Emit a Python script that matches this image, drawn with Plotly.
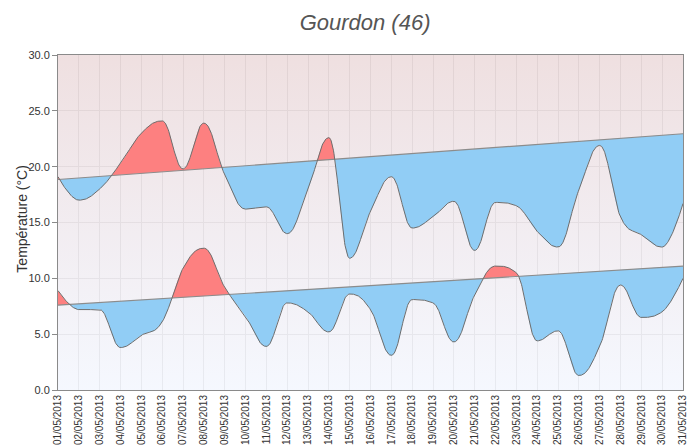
import numpy as np
import plotly.graph_objects as go

# ---------------- data ----------------
day_labels = [f"{d:02d}/05/2013" for d in range(1, 32)]
day_index = list(range(1, 32))

t_max = [19.1, 17.0, 18.0, 20.3, 23.0, 24.1, 19.8, 23.9, 19.3, 16.2, 16.4,
         14.0, 18.0, 22.6, 11.8, 16.0, 19.1, 14.5, 15.5, 16.9, 12.5, 16.8,
         16.5, 14.2, 12.8, 17.9, 21.9, 15.5, 13.9, 12.8, 16.7]
t_min = [8.9, 7.2, 7.2, 3.8, 4.9, 6.1, 10.9, 12.7, 9.2, 6.6, 3.9, 7.8, 7.0,
         5.2, 8.6, 7.2, 3.1, 8.1, 7.8, 4.3, 8.5, 11.1, 10.5, 4.4, 5.3, 1.3,
         3.9, 9.4, 6.5, 7.0, 10.0]

# seasonal normals (straight lines from first to last day)
normal_days = [1, 31]
normal_max = [18.85, 22.95]
normal_min = [7.6, 11.1]

y_ticks = [0, 5, 10, 15, 20, 25, 30]

RED = "rgb(253,128,128)"
BLUE = "rgb(145,205,245)"
LINE = "#6e6e6e"


# ------------- smooth curve rendering (Highcharts-style spline) -------------
def spline_path(xs, ys, n=40):
    N = len(xs)
    s = 1.5
    den = s + 1
    lc = [None] * N
    rc = [None] * N
    for i in range(1, N - 1):
        px, py = xs[i], ys[i]
        lx, ly = xs[i - 1], ys[i - 1]
        nx, ny = xs[i + 1], ys[i + 1]
        lcx, lcy = (s * px + lx) / den, (s * py + ly) / den
        rcx, rcy = (s * px + nx) / den, (s * py + ny) / den
        corr = 0.0
        if rcx != lcx:
            corr = (rcy - lcy) * (rcx - px) / (rcx - lcx) + py - rcy
        lcy += corr
        rcy += corr
        if lcy > ly and lcy > py:
            lcy = max(ly, py); rcy = 2 * py - lcy
        elif lcy < ly and lcy < py:
            lcy = min(ly, py); rcy = 2 * py - lcy
        if rcy > ny and rcy > py:
            rcy = max(ny, py); lcy = 2 * py - rcy
        elif rcy < ny and rcy < py:
            rcy = min(ny, py); lcy = 2 * py - rcy
        lc[i] = (lcx, lcy)
        rc[i] = (rcx, rcy)
    X, Y = [], []
    t = np.linspace(0, 1, n, endpoint=False)
    for i in range(N - 1):
        p0 = np.array([xs[i], ys[i]], float)
        p3 = np.array([xs[i + 1], ys[i + 1]], float)
        p1 = np.array(rc[i], float) if rc[i] is not None else p0
        p2 = np.array(lc[i + 1], float) if lc[i + 1] is not None else p3
        a = (1 - t) ** 3
        b = 3 * (1 - t) ** 2 * t
        c = 3 * (1 - t) * t ** 2
        d = t ** 3
        X.extend(a * p0[0] + b * p1[0] + c * p2[0] + d * p3[0])
        Y.extend(a * p0[1] + b * p1[1] + c * p2[1] + d * p3[1])
    X.append(xs[-1]); Y.append(ys[-1])
    return np.array(X), np.array(Y)


def split_fills(xs, ys, nd, nv):
    cx, cy = spline_path(xs, ys)
    nrm = lambda x: np.interp(x, nd, nv)
    diff = cy - nrm(cx)
    red_x, red_y, blue_x, blue_y = [], [], [], []
    seg_x, seg_y = [cx[0]], [cy[0]]
    sign = diff[0] >= 0

    def close(sx, sy, positive):
        px = list(sx) + [sx[-1], sx[0]]
        py = list(sy) + [float(nrm(sx[-1])), float(nrm(sx[0]))]
        if positive:
            red_x.extend(px + [None]); red_y.extend(py + [None])
        else:
            blue_x.extend(px + [None]); blue_y.extend(py + [None])

    for k in range(1, len(cx)):
        s_now = diff[k] >= 0
        if s_now != sign:
            f = diff[k - 1] / (diff[k - 1] - diff[k])
            xc = cx[k - 1] + f * (cx[k] - cx[k - 1])
            yc = float(nrm(xc))
            seg_x.append(xc); seg_y.append(yc)
            close(seg_x, seg_y, sign)
            seg_x, seg_y = [xc], [yc]
            sign = s_now
        seg_x.append(cx[k]); seg_y.append(cy[k])
    close(seg_x, seg_y, sign)
    return (cx, cy), (red_x, red_y), (blue_x, blue_y)


fig = go.Figure()

# plot background gradient
fig.add_trace(go.Scatter(
    x=[day_index[0], day_index[-1], day_index[-1], day_index[0]],
    y=[y_ticks[0], y_ticks[0], y_ticks[-1], y_ticks[-1]],
    fill="toself", mode="none", hoverinfo="skip", showlegend=False,
    fillgradient=dict(type="vertical",
                      colorscale=[[0, "rgba(241,245,254,0.7)"],
                                  [0.5, "rgba(236,228,234,0.7)"],
                                  [1, "rgba(232,210,211,0.7)"]]),
))

for series, nv in ((t_max, normal_max), (t_min, normal_min)):
    (cx, cy), (rx, ry), (bx, by) = split_fills(day_index, series, normal_days, nv)
    fig.add_trace(go.Scatter(x=rx, y=ry, fill="toself", fillcolor=RED,
                             mode="none", hoverinfo="skip", showlegend=False))
    fig.add_trace(go.Scatter(x=bx, y=by, fill="toself", fillcolor=BLUE,
                             mode="none", hoverinfo="skip", showlegend=False))
    fig.add_trace(go.Scatter(x=normal_days, y=nv, mode="lines",
                             line=dict(color="#8c8c8c", width=1.2),
                             hoverinfo="skip", showlegend=False))
    fig.add_trace(go.Scatter(x=cx, y=cy, mode="lines",
                             line=dict(color=LINE, width=1),
                             hoverinfo="skip", showlegend=False))

# the page body adds an 8px offset, so the figure is 688x438
fig.update_layout(
    width=688, height=438,
    margin=dict(l=49.5, r=13, t=47, b=56, autoexpand=False),
    paper_bgcolor="white", plot_bgcolor="white",
    font=dict(family="Liberation Sans, Arial, sans-serif", color="#333", size=11),
    title=dict(text="Gourdon (46)", x=0.519, xanchor="center", y=0.968, yanchor="middle",
               automargin=False,
               font=dict(size=22, color="#555", style="italic",
                         family="Liberation Sans, Arial, sans-serif")),
    showlegend=False,
    annotations=[dict(text="Température (°C)", textangle=-90, showarrow=False,
                      xref="paper", yref="paper", x=-0.0568, y=0.51,
                      xanchor="center", yanchor="middle",
                      font=dict(size=14, color="#333"))],
)
fig.update_xaxes(
    range=[day_index[0], day_index[-1]], automargin=False,
    tickmode="array", tickvals=day_index, ticktext=day_labels,
    tickangle=-90, tickfont=dict(size=10, color="#333"),
    showgrid=True, gridcolor="#d2d2d2", gridwidth=1,
    showline=True, linecolor="#8a8a8a", linewidth=1, mirror=True,
    ticks="", zeroline=False,
)
fig.update_yaxes(
    range=[y_ticks[0], y_ticks[-1]], automargin=False,
    tickmode="array", tickvals=y_ticks, tickformat=".1f",
    tickfont=dict(size=11, color="#333"),
    showgrid=True, gridcolor="#d2d2d2", gridwidth=1,
    showline=True, linecolor="#8a8a8a", linewidth=1, mirror=True,
    ticks="outside", ticklen=5, tickcolor="#8a8a8a", zeroline=False,
)

fig.write_html("out.html")
